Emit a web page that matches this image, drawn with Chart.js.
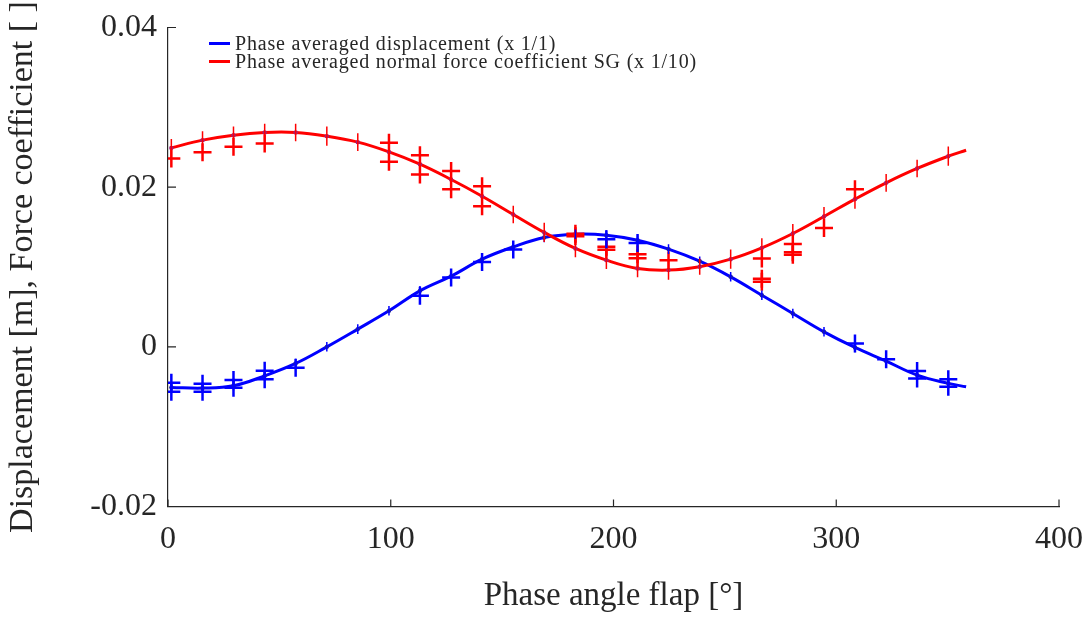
<!DOCTYPE html>
<html>
<head>
<meta charset="utf-8">
<title>Phase averaged displacement and force coefficient</title>
<script src="https://cdn.jsdelivr.net/npm/chart.js@4.4.1/dist/chart.umd.min.js"></script>
<style>
  body { margin: 0; background: #fff; }
  #wrap { position: relative; width: 1087px; height: 621px; }
  #legend {
    position: absolute; left: 209px; top: 35px;
    font-family: "Liberation Serif", serif; font-size: 20px; color: #262626;
    line-height: 17.7px; letter-spacing: 0.8px;
  }
  #legend .row { display: flex; align-items: center; white-space: nowrap; }
  #legend .swatch { width: 21px; height: 3px; margin-right: 5px; }
</style>
</head>
<body>
<div id="wrap">
  <canvas id="mycanvas"></canvas>
  <div id="legend">
    <div class="row"><span class="swatch" style="background:#0000ff"></span>Phase averaged displacement (x 1/1)</div>
    <div class="row"><span class="swatch" style="background:#ff0000"></span>Phase averaged normal force coefficient SG (x 1/10)</div>
  </div>
</div>
<script>
// phase bins (deg)
var phase = [1.5, 15.5, 29.4, 43.4, 57.3, 71.3, 85.2, 99.2, 113.1, 127.1, 141.0, 155.0, 168.9,
             182.9, 196.8, 210.8, 224.7, 238.7, 252.6, 266.6, 280.5, 294.5, 308.4, 322.4, 336.3, 350.3];

// phase averaged displacement (m) and its spread
var displacement = [-0.00508, -0.00517, -0.00488, -0.00363, -0.00208, 0.0, 0.00222, 0.00451, 0.00701,
                    0.00885, 0.01098, 0.01252, 0.0137, 0.01411, 0.01399, 0.01336, 0.01224, 0.01073,
                    0.00877, 0.00647, 0.00418, 0.00188, -0.00008, -0.00179, -0.00354, -0.00458];
var displacementErr = [0.0006, 0.0006, 0.0006, 0.0006, 0.0006, 0.0006, 0.0006, 0.0006, 0.0006, 0.0006,
                       0.0006, 0.0006, 0.0006, 0.0006, 0.0006, 0.0006, 0.0006, 0.0006, 0.0006, 0.0006,
                       0.0006, 0.0006, 0.0006, 0.0006, 0.0006, 0.0006];

// phase averaged normal force coefficient (x 1/10)
var force = [0.02492, 0.02589, 0.02651, 0.02685, 0.02685, 0.02639, 0.02564, 0.02442, 0.02288, 0.02096,
             0.01887, 0.01658, 0.01433, 0.01232, 0.01086, 0.00982, 0.00961, 0.01004, 0.01098, 0.0124,
             0.0142, 0.01633, 0.0185, 0.02054, 0.02234, 0.02388];
var forceErr = [0.0011, 0.0011, 0.0011, 0.0011, 0.0011, 0.0012, 0.0011, 0.0011, 0.0012, 0.0012,
                0.0011, 0.0011, 0.0012, 0.0011, 0.0011, 0.0011, 0.0012, 0.0010, 0.0012, 0.0012,
                0.0012, 0.0012, 0.0012, 0.0011, 0.0011, 0.0012];

// end of the fitted curves
var fitEnd = 358.3;
var displacementEnd = -0.00501;
var forceEnd = 0.02463;

// single run values ('+' markers), index into phase
var dispPlusIdx = [0, 0, 1, 1, 2, 2, 3, 3, 4, 8, 9, 10, 11, 14, 15, 22, 23, 24, 24, 25, 25];
var dispPlusVal = [-0.00451, -0.00564, -0.00463, -0.00564, -0.00417, -0.00513, -0.00301, -0.00405,
                   -0.00263, 0.00639, 0.00869, 0.01064, 0.0122, 0.01349, 0.01302, 0.00043, -0.00154,
                   -0.00304, -0.00396, -0.00405, -0.00501];
var forcePlusIdx = [0, 1, 2, 3, 7, 7, 8, 8, 9, 9, 10, 10, 13, 13, 14, 14, 15, 15, 16, 19, 19, 19, 20, 20, 20, 21, 22];
var forcePlusVal = [0.0236, 0.02438, 0.02505, 0.02547, 0.02555, 0.02317, 0.02401, 0.02159, 0.02204, 0.01975,
                    0.02013, 0.01762, 0.01418, 0.01386, 0.01255, 0.01217, 0.01161, 0.01111, 0.01086,
                    0.01107, 0.00852, 0.00815, 0.01288, 0.01185, 0.01155, 0.0149, 0.01975];

var xTicks = [0, 100, 200, 300, 400];
var yTicks = [-0.02, 0, 0.02, 0.04];
var yTickLabels = ['-0.02', '0', '0.02', '0.04'];

var axisColor = '#262626';

function curve(ys, yEnd) {
  var pts = phase.map(function(x, i) { return {x: x, y: ys[i]}; });
  pts.push({x: fitEnd, y: yEnd});
  return pts;
}
function plus(idx, vals) {
  return idx.map(function(k, i) { return {x: phase[k], y: vals[i]}; });
}

// vertical spread bars drawn through the scales
var errorBars = {
  id: 'errorBars',
  afterDatasetsDraw: function(chart) {
    var ctx = chart.ctx, xs = chart.scales.x, ys = chart.scales.y;
    [[displacement, displacementErr, '#0000ff'], [force, forceErr, '#ff0000']].forEach(function(s) {
      ctx.save();
      ctx.strokeStyle = s[2];
      ctx.lineWidth = 1.5;
      ctx.beginPath();
      s[0].forEach(function(v, i) {
        var px = xs.getPixelForValue(phase[i]);
        ctx.moveTo(px, ys.getPixelForValue(v - s[1][i]));
        ctx.lineTo(px, ys.getPixelForValue(v + s[1][i]));
      });
      ctx.stroke();
      ctx.restore();
    });
  }
};

// matlab style ticks pointing into the plot
var innerTicks = {
  id: 'innerTicks',
  afterDraw: function(chart) {
    var ctx = chart.ctx, xs = chart.scales.x, ys = chart.scales.y, a = chart.chartArea;
    ctx.save();
    ctx.strokeStyle = axisColor;
    ctx.lineWidth = 1.2;
    ctx.beginPath();
    xTicks.forEach(function(t) {
      var p = xs.getPixelForValue(t);
      ctx.moveTo(p, a.bottom);
      ctx.lineTo(p, a.bottom - 7);
    });
    yTicks.forEach(function(t) {
      var p = ys.getPixelForValue(t);
      ctx.moveTo(a.left, p);
      ctx.lineTo(a.left + 8, p);
    });
    ctx.stroke();
    ctx.restore();
  }
};

var ctx = document.getElementById('mycanvas').getContext('2d');
var chart = new Chart(ctx, {
  type: 'scatter',
  data: {
    datasets: [
      {
        label: 'Displacement runs',
        data: plus(dispPlusIdx, dispPlusVal),
        pointStyle: 'cross', pointRadius: 9, borderWidth: 2.5,
        borderColor: '#0000ff', backgroundColor: '#0000ff',
        showLine: false, order: 0
      },
      {
        label: 'Force runs',
        data: plus(forcePlusIdx, forcePlusVal),
        pointStyle: 'cross', pointRadius: 9, borderWidth: 2.5,
        borderColor: '#ff0000', backgroundColor: '#ff0000',
        showLine: false, order: 1
      },
      {
        label: 'Phase averaged normal force coefficient SG (x 1/10)',
        data: curve(force, forceEnd),
        showLine: true, borderColor: '#ff0000', borderWidth: 3, tension: 0.4,
        pointRadius: function(c) { return c.dataIndex < phase.length ? 2.2 : 0; },
        pointBackgroundColor: '#a0207a', pointBorderWidth: 0,
        order: 2
      },
      {
        label: 'Phase averaged displacement (x 1/1)',
        data: curve(displacement, displacementEnd),
        showLine: true, borderColor: '#0000ff', borderWidth: 3, tension: 0.4,
        pointRadius: function(c) { return c.dataIndex < phase.length ? 2.2 : 0; },
        pointBackgroundColor: '#20209a', pointBorderWidth: 0,
        order: 3
      }
    ]
  },
  options: {
    responsive: true,
    maintainAspectRatio: false,
    animation: false,
    layout: { padding: { left: 0, right: 28, top: 27.5, bottom: 0 } },
    plugins: {
      legend: { display: false },
      tooltip: { enabled: false }
    },
    scales: {
      x: {
        type: 'linear', min: 0, max: 400,
        afterBuildTicks: function(s) { s.ticks = xTicks.map(function(v) { return {value: v}; }); },
        afterFit: function(s) { s.height = 114.5; s.paddingLeft = 0; s.paddingRight = 0; },
        ticks: { color: axisColor, padding: 14, maxRotation: 0,
                 font: { family: '"Liberation Serif", serif', size: 32 } },
        grid: { display: false, drawTicks: false },
        border: { display: true, color: axisColor, width: 1.2 },
        title: { display: true, text: 'Phase angle flap [°]', color: axisColor,
                 padding: { top: 0, bottom: 5 },
                 font: { family: '"Liberation Serif", serif', size: 33, weight: 'normal' } }
      },
      y: {
        type: 'linear', min: -0.02, max: 0.04,
        afterBuildTicks: function(s) { s.ticks = yTicks.map(function(v) { return {value: v}; }); },
        afterFit: function(s) { s.width = 168; s.paddingTop = 0; s.paddingBottom = 0; },
        ticks: { color: axisColor, padding: 11,
                 font: { family: '"Liberation Serif", serif', size: 32 },
                 callback: function(v) { return yTickLabels[yTicks.indexOf(v)]; } },
        grid: { display: false, drawTicks: false },
        border: { display: true, color: axisColor, width: 1.2 },
        title: { display: true, text: 'Displacement [m], Force coefficient [ ]', color: axisColor,
                 padding: { top: 3, bottom: 0 },
                 font: { family: '"Liberation Serif", serif', size: 34, weight: 'normal' } }
      }
    }
  },
  plugins: [errorBars, innerTicks]
});
</script>
</body>
</html>
